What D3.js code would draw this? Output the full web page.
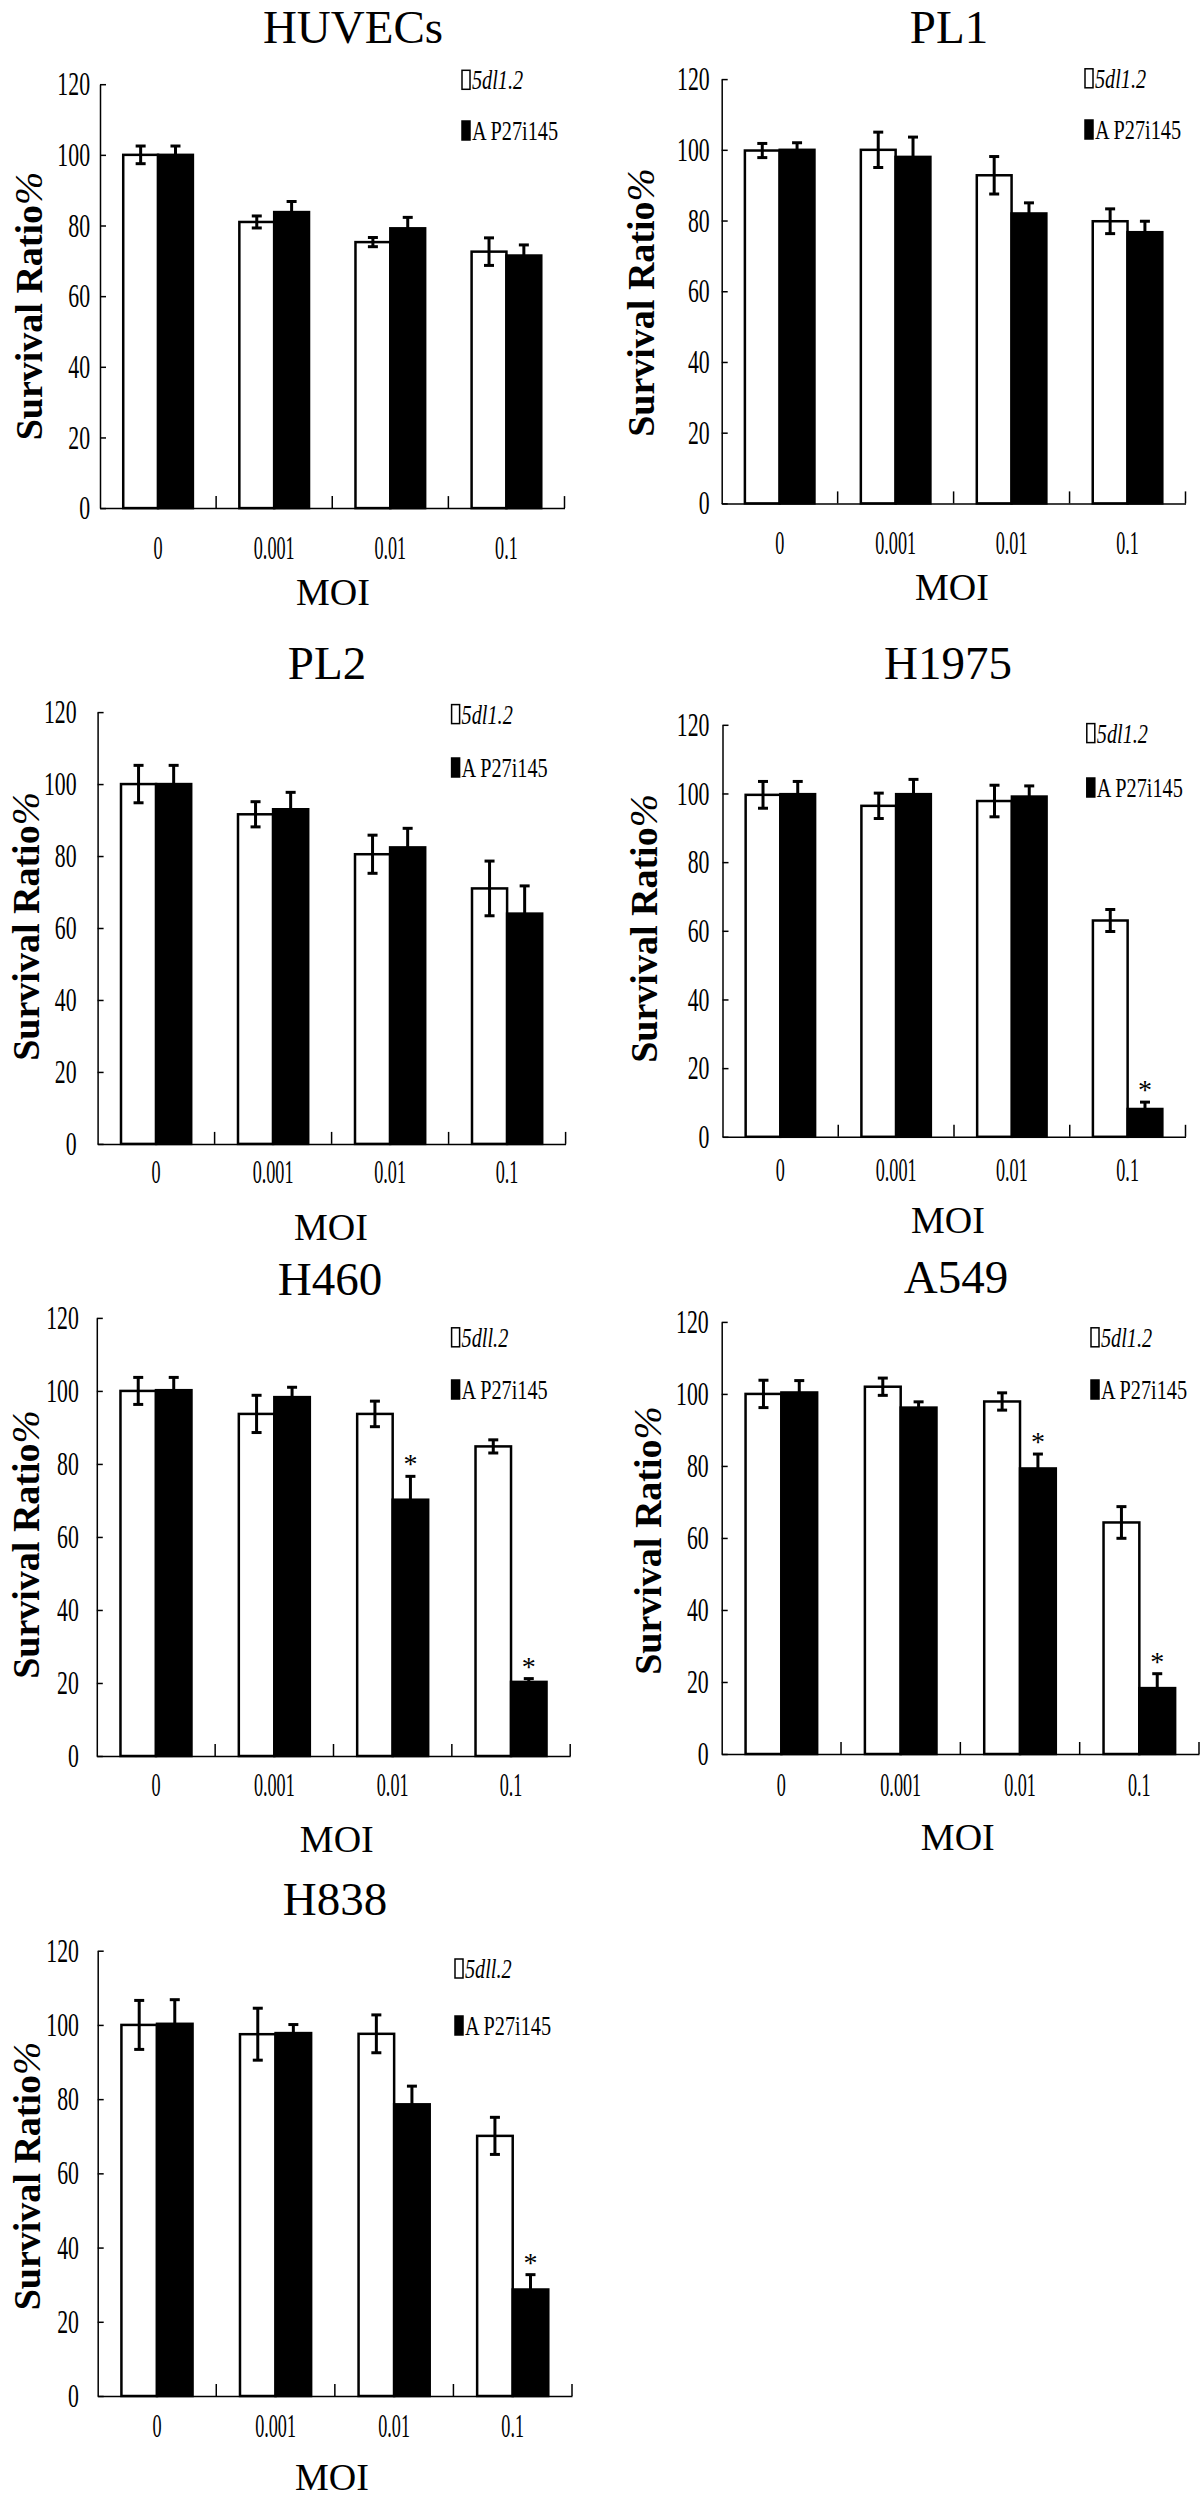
<!DOCTYPE html>
<html>
<head>
<meta charset="utf-8">
<script src="https://cdn.jsdelivr.net/npm/d3@7/dist/d3.min.js"></script>
<style>
body { margin: 0; background: #fff; }
text { font-family: "Liberation Serif", "Times New Roman", serif; fill: #000; }
</style>
</head>
<body>
<script>
var width = 1200,
    height = 2500;

// data
var cells = ["HUVECs", "PL1", "PL2", "H1975", "H460", "A549", "H838"];
var moi = ["0", "0.001", "0.01", "0.1"];
var yTicks = [0, 20, 40, 60, 80, 100, 120];
var legendWhite = ["5dl1.2", "5dl1.2", "5dl1.2", "5dl1.2", "5dll.2", "5dl1.2", "5dll.2"];
var legendBlack = "A P27i145";

var white = [
    [100, 81, 75.3, 72.6],
    [99.8, 100, 92.8, 79.8],
    [100, 91.6, 80.5, 71],
    [99.6, 96.4, 97.8, 63],
    [100, 93.7, 93.7, 84.8],
    [100, 102, 97.9, 64.3],
    [100, 97.5, 97.6, 70.1]
];
var whiteErr = [
    [2.5, 1.7, 1.3, 3.9],
    [2, 5, 5.3, 3.5],
    [5.2, 3.5, 5.3, 7.6],
    [3.9, 3.7, 4.6, 3.2],
    [3.7, 5.1, 3.5, 1.8],
    [3.8, 2.4, 2.4, 4.4],
    [6.6, 7, 5.1, 5]
];
var black = [
    [100, 83.8, 79.2, 71.5],
    [100, 98, 82, 76.7],
    [100, 93, 82.4, 64],
    [99.8, 99.8, 99.1, 8.1],
    [100.2, 98.3, 70.2, 20.3],
    [100.4, 96.2, 79.3, 18.3],
    [100.3, 97.8, 78.6, 28.7]
];
var blackErr = [
    [2.5, 3, 3.1, 3],
    [2, 5.6, 3, 3.1],
    [5.2, 4.7, 5.3, 7.7],
    [3.7, 4.3, 3.1, 2],
    [3.5, 2.7, 6.4, 0.9],
    [3.3, 1.6, 4, 4],
    [6.5, 2.3, 4.9, 4]
];
var stars = [
    [0, 0, 0, 0],
    [0, 0, 0, 0],
    [0, 0, 0, 0],
    [0, 0, 0, 1],
    [0, 0, 1, 1],
    [0, 0, 1, 1],
    [0, 0, 0, 1]
];

// where each panel sits on the page
var frames = [
    {left: 100, right: 564.5, top: 84.2, bottom: 508.1, titleX: 353, titleY: 43, legX: 462, legY: [89.3, 140], tickY: 559.5, moiX: 333, moiY: 605, ytX: 42, ytY: 306, gap: 10},
    {left: 721.7, right: 1185.5, top: 79.1, bottom: 503.4, titleX: 949, titleY: 43, legX: 1085, legY: [87.8, 139], tickY: 553.6, moiX: 952, moiY: 600, ytX: 653.6, ytY: 302.5, gap: 12},
    {left: 97.6, right: 565.6, top: 712.1, bottom: 1143.9, titleX: 327, titleY: 678.5, legX: 451.6, legY: [723.6, 777], tickY: 1183.5, moiX: 331, moiY: 1240, ytX: 39, ytY: 926.4, gap: 21},
    {left: 722.5, right: 1185.5, top: 724.8, bottom: 1136.8, titleX: 948, titleY: 678.5, legX: 1086.8, legY: [742.6, 797], tickY: 1181.5, moiX: 948, moiY: 1233, ytX: 656.6, ytY: 928.4, gap: 13},
    {left: 96.8, right: 570.2, top: 1317.9, bottom: 1756, titleX: 330, titleY: 1295.4, legX: 451.6, legY: [1346.8, 1399], tickY: 1795.6, moiX: 336.8, moiY: 1852, ytX: 39, ytY: 1544.5, gap: 18},
    {left: 721.7, right: 1199, top: 1321.9, bottom: 1754, titleX: 956, titleY: 1293.4, legX: 1091, legY: [1346.8, 1399], tickY: 1795.6, moiX: 957.8, moiY: 1850, ytX: 661, ytY: 1540.5, gap: 13},
    {left: 97.7, right: 572, top: 1950.7, bottom: 2396, titleX: 335, titleY: 1915, legX: 455, legY: [1978, 2035], tickY: 2436.7, moiX: 332, moiY: 2490, ytX: 40, ytY: 2176, gap: 18.7}
];

var svg = d3.select("body").append("svg")
    .attr("width", width)
    .attr("height", height);

cells.forEach(function (name, i) {
    drawPanel(i);
});

function drawPanel(i) {
    var f = frames[i];
    var g = svg.append("g");

    var y = d3.scaleLinear().domain([0, 120]).range([f.bottom, f.top]);
    var x0 = d3.scaleBand().domain(moi).range([f.left, f.right]);
    var w = x0.bandwidth();
    var x1 = d3.scaleBand().domain(["w", "b"]).range([w * 0.2, w * 0.8]);
    var bw = x1.bandwidth();

    var rows = moi.map(function (m, j) {
        return {m: m, wv: white[i][j], we: whiteErr[i][j], bv: black[i][j], be: blackErr[i][j], star: stars[i][j]};
    });

    // bars
    g.selectAll("rect.w").data(rows).enter().append("rect")
        .attr("x", function (d) { return x0(d.m) + x1("w"); })
        .attr("y", function (d) { return y(d.wv); })
        .attr("width", bw)
        .attr("height", function (d) { return y(0) - y(d.wv); })
        .attr("fill", "#fff")
        .attr("stroke", "#000")
        .attr("stroke-width", 2.5);
    g.selectAll("rect.b").data(rows).enter().append("rect")
        .attr("x", function (d) { return x0(d.m) + x1("b"); })
        .attr("y", function (d) { return y(d.bv); })
        .attr("width", bw)
        .attr("height", function (d) { return y(0) - y(d.bv); })
        .attr("fill", "#000")
        .attr("stroke", "#000")
        .attr("stroke-width", 2.5);

    // error bars
    var errs = [];
    rows.forEach(function (d) {
        errs.push({cx: x0(d.m) + x1("w") + bw / 2, v: d.wv, e: d.we});
        errs.push({cx: x0(d.m) + x1("b") + bw / 2, v: d.bv, e: d.be});
    });
    var eg = g.selectAll("g.err").data(errs).enter().append("g")
        .attr("stroke", "#000")
        .attr("stroke-width", 3);
    eg.append("line")
        .attr("x1", function (d) { return d.cx; })
        .attr("x2", function (d) { return d.cx; })
        .attr("y1", function (d) { return y(d.v - d.e); })
        .attr("y2", function (d) { return y(d.v + d.e); });
    [1, -1].forEach(function (s) {
        eg.append("line")
            .attr("x1", function (d) { return d.cx - 5; })
            .attr("x2", function (d) { return d.cx + 5; })
            .attr("y1", function (d) { return y(d.v + s * d.e); })
            .attr("y2", function (d) { return y(d.v + s * d.e); });
    });

    // significance marks
    g.selectAll("text.star").data(rows.filter(function (d) { return d.star; })).enter().append("text")
        .attr("x", function (d) { return x0(d.m) + x1("b") + bw / 2; })
        .attr("y", function (d) { return y(d.bv + d.be) - 3; })
        .attr("text-anchor", "middle")
        .attr("font-size", 28)
        .text("*");

    // y axis
    var yAxis = d3.axisLeft(y)
        .tickValues(yTicks)
        .tickSizeInner(-6)
        .tickSizeOuter(0)
        .tickPadding(f.gap);
    var ya = g.append("g").attr("transform", "translate(" + f.left + ",0)").call(yAxis)
        .attr("font-family", null).attr("font-size", null);
    ya.selectAll("path, line").attr("stroke-width", 1.5);
    ya.selectAll("text")
        .attr("font-size", 33)
        .attr("transform", "scale(0.66,1)")
        .attr("x", -f.gap / 0.66);

    // x axis
    var xAxis = d3.axisBottom(x0).tickSize(0).tickSizeOuter(0);
    var xa = g.append("g").attr("transform", "translate(0," + f.bottom + ")").call(xAxis)
        .attr("font-family", null).attr("font-size", null);
    xa.select(".domain").attr("stroke-width", 1.5);
    xa.selectAll("text")
        .attr("font-size", 33)
        .attr("dy", 0)
        .attr("y", f.tickY - f.bottom)
        .attr("transform", "scale(0.55,1)");
    xa.selectAll("line.sep").data(moi).enter().append("line")
        .attr("x1", function (m) { return x0(m) + w; })
        .attr("x2", function (m) { return x0(m) + w; })
        .attr("y1", 0)
        .attr("y2", -12)
        .attr("stroke", "#000")
        .attr("stroke-width", 1.5);

    // titles
    g.append("text")
        .attr("x", f.titleX)
        .attr("y", f.titleY)
        .attr("text-anchor", "middle")
        .attr("font-size", 47)
        .text(cells[i]);
    g.append("text")
        .attr("x", f.moiX)
        .attr("y", f.moiY)
        .attr("text-anchor", "middle")
        .attr("font-size", 38)
        .text("MOI");
    var yt = g.append("text")
        .attr("transform", "translate(" + f.ytX + "," + f.ytY + ") rotate(-90)")
        .attr("text-anchor", "middle")
        .attr("font-size", 38)
        .attr("font-weight", "bold")
        .text("Survival Ratio");
    yt.append("tspan")
        .attr("font-weight", "normal")
        .attr("font-style", "italic")
        .attr("font-size", 40)
        .text("%");

    // legend
    var leg = [{label: legendWhite[i], fill: "#fff", italic: true}, {label: legendBlack, fill: "#000", italic: false}];
    leg.forEach(function (d, k) {
        g.append("rect")
            .attr("x", f.legX)
            .attr("y", f.legY[k] - 19)
            .attr("width", 8)
            .attr("height", 19)
            .attr("fill", d.fill)
            .attr("stroke", "#000")
            .attr("stroke-width", 1.5);
        g.append("text")
            .attr("transform", "translate(" + (f.legX + 10) + "," + f.legY[k] + ") scale(0.75,1)")
            .attr("font-size", 27)
            .attr("font-style", d.italic ? "italic" : null)
            .text(d.label);
    });
}
</script>
</body>
</html>
